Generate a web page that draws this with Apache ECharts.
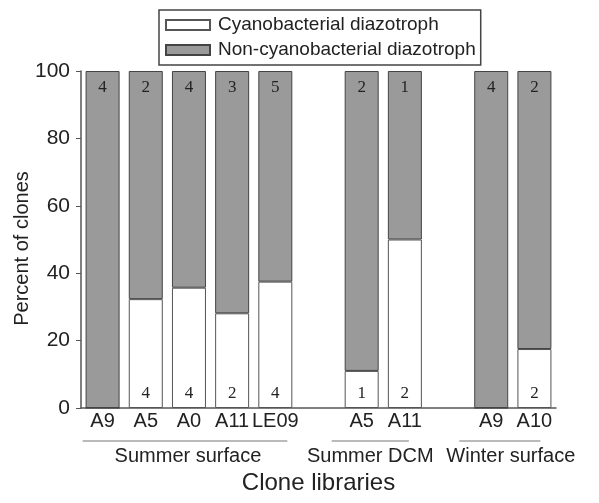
<!DOCTYPE html>
<html>
<head>
<meta charset="utf-8">
<script src="https://cdn.jsdelivr.net/npm/echarts@6/dist/echarts.min.js"></script>
<style>html,body{margin:0;padding:0;background:#fff;}#c{width:599px;height:503px;}</style>
</head>
<body>
<div id="c"></div>
<script>
// ---- data ----
var categories = ['A9', 'A5', 'A0', 'A11', 'LE09', '', 'A5', 'A11', '', 'A9', 'A10'];
var cyanoPct    = [0, 32.3, 35.7, 28.1, 37.5, null, 11.0, 50, null, 0, 17.5];
var nonCyanoPct = [100, 67.7, 64.3, 71.9, 62.5, null, 89.0, 50, null, 100, 82.5];
var cyanoCounts    = ['', '4', '4', '2', '4', '', '1', '2', '', '', '2'];
var nonCyanoCounts = ['4', '2', '4', '3', '5', '', '2', '1', '', '4', '2'];
var yTicks = [0, 20, 40, 60, 80, 100];
var groups = [
  { name: 'Summer surface', from: 0, to: 4 },
  { name: 'Summer DCM', from: 6, to: 7 },
  { name: 'Winter surface', from: 9, to: 10 }
];
var seriesNames = ['Cyanobacterial diazotroph', 'Non-cyanobacterial diazotroph'];
var xTitle = 'Clone libraries';
var yTitle = 'Percent of clones';

// ---- layout / style ----
var groupPad = [ { l: -20, r: 12, dx: 3 }, { l: -30, r: 4, dx: 0 }, { l: -32, r: 6, dx: 11 } ];
var sans = 'Liberation Sans';
var serif = 'Liberation Serif';

var chart = echarts.init(document.getElementById('c'), null, { renderer: 'canvas' });

function labelFor(arr, pos, dist) {
  return {
    show: true, position: pos, distance: dist,
    fontFamily: serif, fontSize: 17, color: '#222',
    formatter: function (p) { return arr[p.dataIndex]; }
  };
}

var option = {
  animation: false,
  backgroundColor: '#fff',
  grid: { left: 81, right: 43, top: 71, bottom: 95, containLabel: false, outerBoundsMode: 'none' },
  legend: {
    orient: 'vertical', left: 159, top: 10,
    padding: [5, 5, 5, 6], itemGap: 5,
    itemWidth: 44, itemHeight: 10, icon: 'rect',
    borderColor: '#444', borderWidth: 1.5,
    textStyle: { fontFamily: sans, fontSize: 19, color: '#222', lineHeight: 20, padding: [0, 0, 0, 3] },
    data: seriesNames
  },
  xAxis: {
    type: 'category', data: categories,
    axisLine: { lineStyle: { color: '#555', width: 1.5 } },
    axisTick: { show: false },
    axisLabel: { fontFamily: sans, fontSize: 20, color: '#222', margin: 3, interval: 0 },
    name: xTitle, nameLocation: 'middle', nameGap: 63, nameMoveOverlap: false,
    nameTextStyle: { fontFamily: sans, fontSize: 24, color: '#222' }
  },
  yAxis: {
    type: 'value', min: 0, max: 100, interval: 20,
    axisLine: { show: true, lineStyle: { color: '#555', width: 1.5 } },
    axisTick: { show: true, length: 5, lineStyle: { color: '#555' } },
    splitLine: { show: false },
    axisLabel: { fontFamily: sans, fontSize: 21, color: '#222', margin: 11,
      formatter: function (v) { return yTicks.indexOf(v) >= 0 ? String(v) : ''; } },
    name: yTitle, nameLocation: 'middle', nameGap: 49, nameMoveOverlap: false,
    nameTextStyle: { fontFamily: sans, fontSize: 20, color: '#222', padding: [0, 18, 0, 0] }
  },
  series: [
    {
      name: seriesNames[0], type: 'bar', stack: 'all', data: cyanoPct,
      barWidth: 34,
      itemStyle: { color: '#ffffff', borderColor: '#555', borderWidth: 1 },
      label: labelFor(cyanoCounts, 'insideBottom', 6)
    },
    {
      name: seriesNames[1], type: 'bar', stack: 'all', data: nonCyanoPct,
      barWidth: 34,
      itemStyle: { color: '#9a9a9a', borderColor: '#444', borderWidth: 1 },
      label: labelFor(nonCyanoCounts, 'insideTop', 8)
    }
  ]
};
chart.setOption(option);

// group annotations below the category labels, positioned via the axis scale
var gfx = [];
var lineY = 441, textY = 456;
groups.forEach(function (g, i) {
  var x1 = chart.convertToPixel({ xAxisIndex: 0 }, g.from) + groupPad[i].l;
  var x2 = chart.convertToPixel({ xAxisIndex: 0 }, g.to) + groupPad[i].r;
  gfx.push({ type: 'line', shape: { x1: x1, y1: lineY, x2: x2, y2: lineY },
    style: { stroke: '#777', lineWidth: 1.2 } });
  gfx.push({ type: 'text', x: (x1 + x2) / 2 + groupPad[i].dx, y: textY,
    style: { text: g.name, fontFamily: sans, fontSize: 20, fill: '#222',
      textAlign: 'center', textVerticalAlign: 'middle' } });
});
chart.setOption({ graphic: gfx });
</script>
</body>
</html>
